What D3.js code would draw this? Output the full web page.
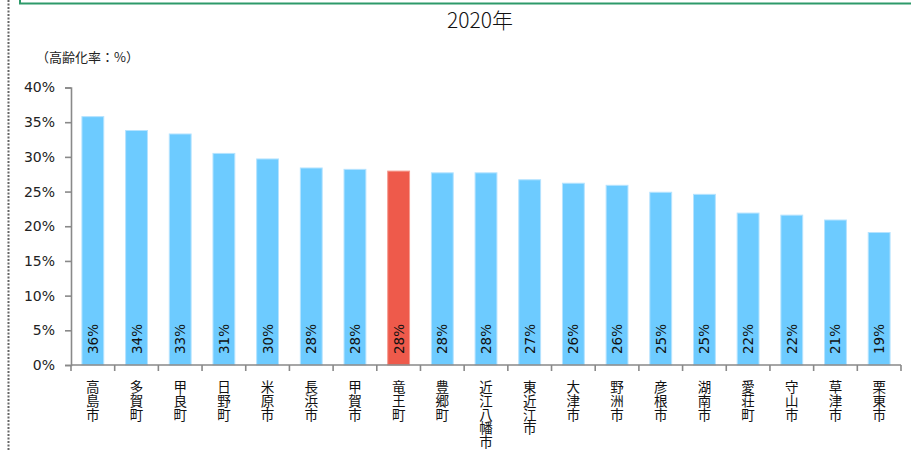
<!DOCTYPE html>
<html><head><meta charset="utf-8">
<script src="https://cdn.jsdelivr.net/npm/d3@7"></script>
<style>html,body{margin:0;padding:0;background:#fff;}svg{display:block;}</style>
</head><body>
<script>
const categories = ["高島市","多賀町","甲良町","日野町","米原市","長浜市","甲賀市","竜王町","豊郷町","近江八幡市","東近江市","大津市","野洲市","彦根市","湖南市","愛荘町","守山市","草津市","栗東市"];
const values = [35.8,33.8,33.3,30.5,29.7,28.4,28.2,27.95,27.7,27.7,26.7,26.2,25.9,24.9,24.6,21.9,21.6,20.9,19.1];
const highlight = "竜王町";
const yTicks = [0,5,10,15,20,25,30,35,40];
const title = "2020年";
const unitLabel = "（高齢化率：%）";

const W = 911, H = 451;
const svg = d3.select("body").append("svg").attr("width", W).attr("height", H);

// frame decorations
svg.append("line").attr("x1",8.5).attr("x2",8.5).attr("y1",0).attr("y2",H)
  .attr("stroke","#666").attr("stroke-width",2).attr("stroke-dasharray","2,1.5");
svg.append("path").attr("d","M20,0 V3.5 H911").attr("fill","none")
  .attr("stroke","#2e9a6a").attr("stroke-width",2);

const x = d3.scaleBand().domain(categories).range([71, 901]).paddingInner(0.5).paddingOuter(0.25);
const y = d3.scaleLinear().domain([0, 40]).range([365, 87.5]);

svg.append("text").attr("x", 480).attr("y", 28).attr("text-anchor","middle")
  .attr("font-family","'Noto Sans CJK JP', 'Noto Sans', sans-serif").attr("font-size",21)
  .attr("font-weight",300).attr("fill","#111").text(title);
svg.append("text").attr("x", 36).attr("y", 62)
  .attr("font-family","'Noto Sans CJK JP', sans-serif").attr("font-size",13)
  .attr("fill","#222").text(unitLabel);

// bars
svg.append("g").selectAll("rect").data(categories).join("rect")
  .attr("x", d => x(d)).attr("width", x.bandwidth())
  .attr("y", (d,i) => y(values[i])).attr("height", (d,i) => y(0) - y(values[i]))
  .attr("fill", d => d === highlight ? "#ee5a4b" : "#6dcbff")
  .attr("stroke", d => d === highlight ? "#f59a8f" : "#b5e3ff").attr("stroke-width", 1);

// value labels
svg.append("g").selectAll("text").data(categories).join("text")
  .attr("transform", (d,i) => `translate(${x(d)+x.bandwidth()/2},354) rotate(-90)`)
  .attr("dominant-baseline","central")
  .attr("font-family","'DejaVu Sans', Verdana, sans-serif").attr("font-size",13.5)
  .attr("fill","#111")
  .text((d,i) => Math.round(values[i]) + "%");

// y axis
const yAxis = d3.axisLeft(y).tickValues(yTicks).tickSize(6).tickPadding(10)
  .tickFormat(d => d + "%");
const gy = svg.append("g").attr("transform","translate(71,0)").call(yAxis);
gy.select(".domain").attr("stroke","#898989").attr("stroke-width",1.6);
gy.selectAll(".tick line").attr("stroke","#898989").attr("stroke-width",1.6);
gy.selectAll(".tick text").attr("font-family","'DejaVu Sans', Verdana, sans-serif")
  .attr("font-size",14).attr("fill","#222");

// x axis
const gx = svg.append("g");
gx.append("line").attr("x1",71).attr("x2",901).attr("y1",365).attr("y2",365)
  .attr("stroke","#898989").attr("stroke-width",1.6);
const bounds = d3.range(categories.length + 1).map(i => 71 + i * x.step());
gx.selectAll("line.t").data(bounds).join("line").attr("class","t")
  .attr("x1", d => d).attr("x2", d => d).attr("y1",365).attr("y2",371)
  .attr("stroke","#898989").attr("stroke-width",1.6);

// category labels (vertical, one glyph per line)
const lab = svg.append("g").selectAll("g").data(categories).join("g")
  .attr("transform", d => `translate(${x(d)+x.bandwidth()/2},0)`);
lab.selectAll("text").data(d => Array.from(d)).join("text")
  .attr("x",0).attr("y",(c,i) => 386 + i*13.8)
  .attr("text-anchor","middle").attr("dominant-baseline","central")
  .attr("font-family","'Noto Sans CJK JP', sans-serif").attr("font-size",13.5)
  .attr("fill","#111").text(c => c);
</script>
</body></html>
